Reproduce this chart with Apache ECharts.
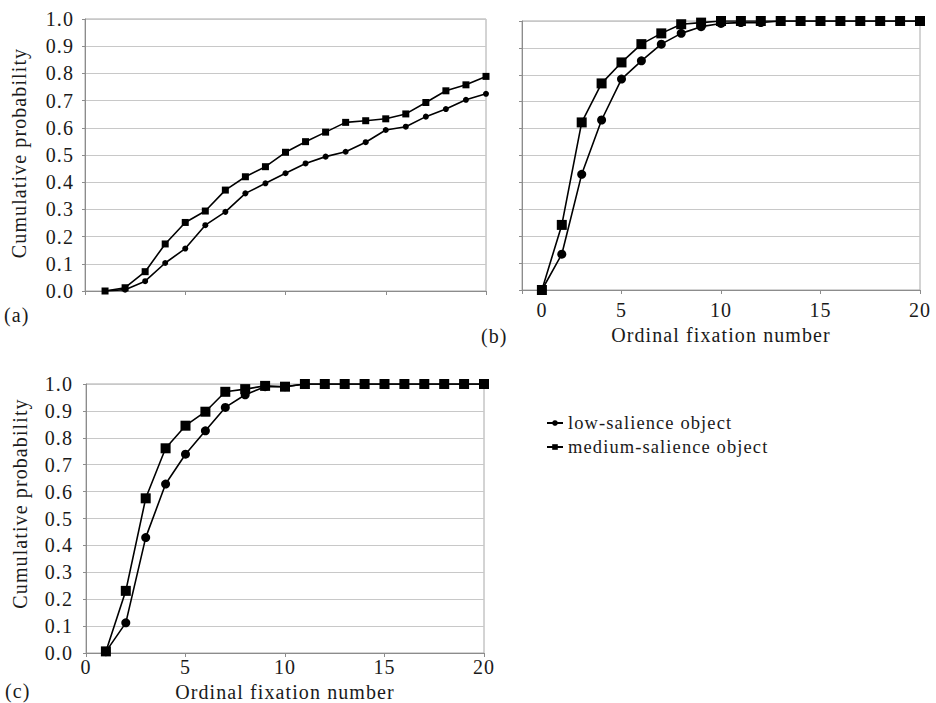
<!DOCTYPE html>
<html>
<head>
<meta charset="utf-8">
<title>Cumulative probability by ordinal fixation number</title>
<script src="https://cdn.jsdelivr.net/npm/echarts@6/dist/echarts.min.js"></script>
<style>
    html, body { margin: 0; padding: 0; background: #fff; }
    #chart { width: 936px; height: 703px; }
    #chart text { font-family: 'Liberation Serif', serif !important; letter-spacing: 1.1px; }
</style>
</head>
<body>
<div id="chart"></div>
<script>
    // ordinal fixation number (x) shared by all three panels
    const fixationNumbers = [1, 2, 3, 4, 5, 6, 7, 8, 9, 10, 11, 12, 13, 14, 15, 16, 17, 18, 19, 20]
    const xTicks = [0, 5, 10, 15, 20]
    const seriesNames = ['low-salience object', 'medium-salience object']

    // panel (a)
    const lowA = [0.0, 0.005, 0.036, 0.103, 0.156, 0.242, 0.291, 0.359, 0.396, 0.433, 0.469, 0.494, 0.512, 0.547, 0.592, 0.604, 0.641, 0.669, 0.703, 0.725]
    const mediumA = [0.0, 0.012, 0.071, 0.173, 0.252, 0.294, 0.371, 0.42, 0.457, 0.51, 0.549, 0.584, 0.62, 0.626, 0.633, 0.651, 0.693, 0.736, 0.758, 0.789]
    // panel (b)
    const lowB = [0.0, 0.133, 0.43, 0.632, 0.784, 0.852, 0.914, 0.954, 0.979, 0.991, 0.994, 0.994, 1, 1, 1, 1, 1, 1, 1, 1]
    const mediumB = [0.0, 0.242, 0.623, 0.768, 0.846, 0.914, 0.954, 0.988, 0.994, 1, 1, 1, 1, 1, 1, 1, 1, 1, 1, 1]
    // panel (c)
    const lowC = [0.005, 0.112, 0.429, 0.628, 0.739, 0.826, 0.913, 0.96, 0.99, 0.99, 1, 1, 1, 1, 1, 1, 1, 1, 1, 1]
    const mediumC = [0.006, 0.231, 0.575, 0.761, 0.845, 0.897, 0.971, 0.981, 0.993, 0.99, 1, 1, 1, 1, 1, 1, 1, 1, 1, 1]

    const font = 'Liberation Serif'
    const textColor = '#1a1a1a'

    function pairs(values) {
        return fixationNumbers.map((x, i) => [x, values[i]])
    }

    function yAxis(gridIndex, showLabels, margin, nameShift) {
        return {
            type: 'value',
            gridIndex: gridIndex,
            min: 0,
            max: 1,
            interval: 0.1,
            name: showLabels ? 'Cumulative probability' : '',
            nameLocation: 'middle',
            nameGap: 56,
            nameTextStyle: { fontFamily: font, fontSize: 20, color: textColor, padding: [0, 0, 0, nameShift] },
            axisLine: { show: true, lineStyle: { color: '#8c8c8c', width: 1 } },
            axisTick: { show: true, length: 3, lineStyle: { color: '#8c8c8c' } },
            axisLabel: {
                show: showLabels,
                margin: margin,
                fontFamily: font,
                fontSize: 20,
                color: textColor,
                formatter: v => v.toFixed(1)
            },
            splitLine: { lineStyle: { color: '#c8c8c8', width: 1 } }
        }
    }

    function xAxis(gridIndex, labels, nameGap, margin) {
        return {
            type: 'value',
            gridIndex: gridIndex,
            min: xTicks[0],
            max: xTicks[xTicks.length - 1],
            interval: 5,
            name: labels ? 'Ordinal fixation number' : '',
            nameLocation: 'middle',
            nameGap: nameGap,
            nameTextStyle: { fontFamily: font, fontSize: 20, color: textColor },
            axisLine: { show: true, onZero: false, lineStyle: { color: '#8c8c8c', width: 1 } },
            axisTick: { show: true, length: 4, lineStyle: { color: '#8c8c8c' } },
            axisLabel: {
                show: labels !== null,
                margin: margin,
                fontFamily: font,
                fontSize: 20,
                color: textColor,
                formatter: labels,
                rich: { shifted: { fontFamily: font, fontSize: 20, color: textColor, padding: [0, 0, 0, 40] } }
            },
            splitLine: { show: false }
        }
    }

    function lineSeries(name, values, index, symbol, size) {
        return {
            name: name,
            type: 'line',
            xAxisIndex: index,
            yAxisIndex: index,
            data: pairs(values),
            symbol: symbol,
            symbolSize: size,
            showSymbol: true,
            color: '#000',
            itemStyle: { color: '#000' },
            lineStyle: { color: '#000', width: 1.6 },
            animation: false
        }
    }

    const chart = echarts.init(document.getElementById('chart'), null, { renderer: 'svg' })
    const titleStyle = { fontFamily: font, fontSize: 20, fontWeight: 'normal', color: textColor }

    const options = {
        backgroundColor: '#fff',
        animation: false,
        title: [
            { text: '(a)', left: 4, top: 305, padding: 0, textStyle: titleStyle },
            { text: '(b)', left: 481, top: 326, padding: 0, textStyle: titleStyle },
            { text: '(c)', left: 5, top: 681, padding: 0, textStyle: titleStyle }
        ],
        legend: {
            orient: 'vertical',
            left: 541,
            top: 408,
            itemGap: 4,
            itemWidth: 16,
            itemHeight: 7,
            textStyle: { fontFamily: font, fontSize: 18.5, color: textColor, lineHeight: 20 },
            data: seriesNames
        },
        grid: [
            { left: 85, top: 19, width: 401, height: 272, show: true, borderColor: '#a8a8a8', borderWidth: 1 },
            { left: 522, top: 21, width: 398, height: 269, show: true, borderColor: '#a8a8a8', borderWidth: 1 },
            { left: 86, top: 384, width: 398, height: 269, show: true, borderColor: '#a8a8a8', borderWidth: 1 }
        ],
        xAxis: [
            xAxis(0, null, 30, 8),
            xAxis(1, v => (v === 0 ? '{shifted|0}' : String(v)), 35, 10),
            xAxis(2, v => String(v), 29, 4)
        ],
        yAxis: [
            yAxis(0, true, 11, 4),
            yAxis(1, false, 11, 0),
            yAxis(2, true, 13, 30)
        ],
        series: [
            lineSeries(seriesNames[0], lowA, 0, 'circle', 6),
            lineSeries(seriesNames[1], mediumA, 0, 'rect', 7),
            lineSeries(seriesNames[0], lowB, 1, 'circle', 9),
            lineSeries(seriesNames[1], mediumB, 1, 'rect', 10),
            lineSeries(seriesNames[0], lowC, 2, 'circle', 9),
            lineSeries(seriesNames[1], mediumC, 2, 'rect', 10)
        ]
    }
    chart.setOption(options)
</script>
</body>
</html>
